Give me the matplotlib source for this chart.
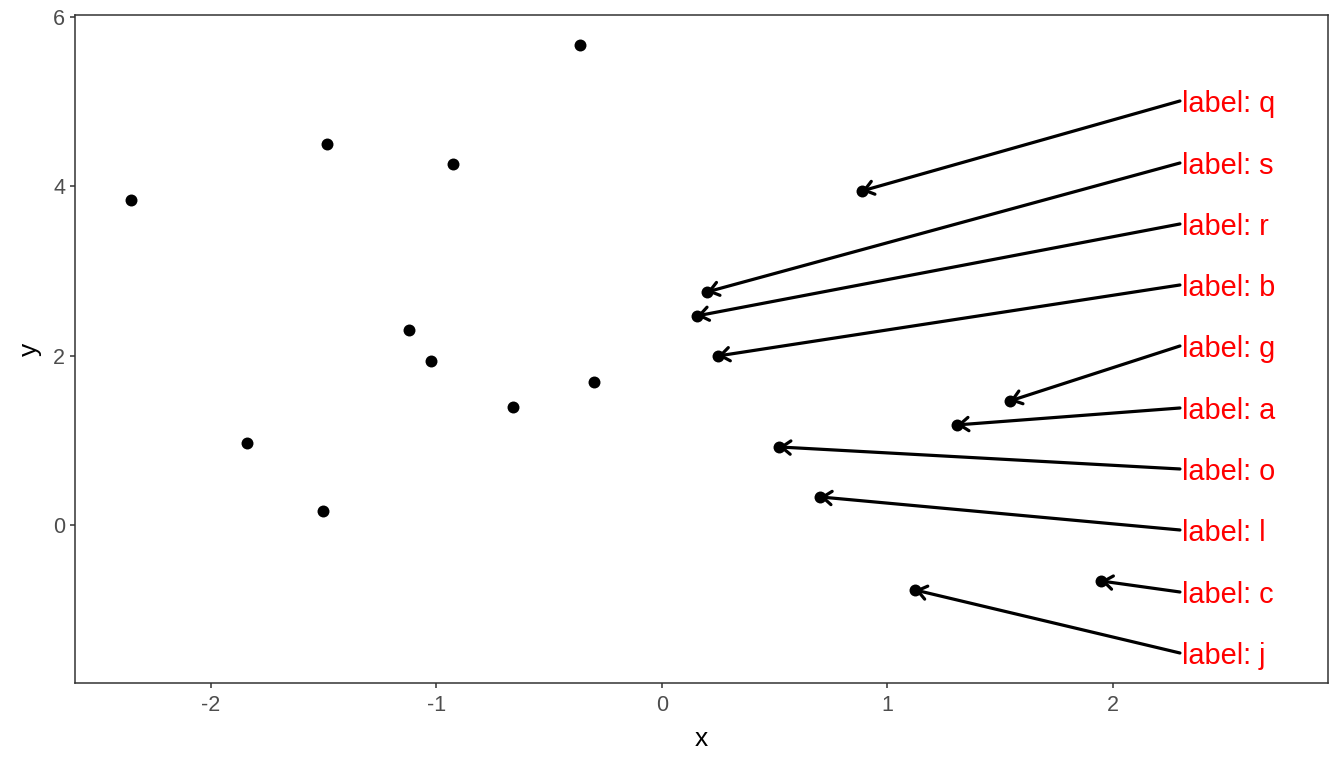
import matplotlib
matplotlib.use("Agg")
import matplotlib.pyplot as plt

plt.rcParams['font.family'] = ['Liberation Sans', 'DejaVu Sans']
plt.rcParams['axes.unicode_minus'] = False

# points without labels
x_plain = [-2.355, -1.486, -0.927, -0.364, -1.122, -1.024, -0.661, -0.302, -1.840, -1.503]
y_plain = [3.837, 4.498, 4.262, 5.667, 2.302, 1.936, 1.393, 1.688, 0.968, 0.165]

# labelled points and where their labels sit
names = ['q', 's', 'r', 'b', 'g', 'a', 'o', 'l', 'c', 'j']
x_lab = [0.887, 0.200, 0.155, 0.248, 1.543, 1.308, 0.519, 0.701, 1.947, 1.122]
y_lab = [3.943, 2.751, 2.468, 1.995, 1.464, 1.181, 0.921, 0.331, -0.661, -0.767]
label_x = 2.297
label_y = [5.005, 4.273, 3.553, 2.833, 2.113, 1.381, 0.661, -0.059, -0.791, -1.511]

fig = plt.figure(figsize=(13.44, 7.68), dpi=100)
ax = fig.add_axes([0.0558, 0.1107, 0.9322, 0.8698])

ax.scatter(x_plain + x_lab, y_plain + y_lab, s=74, color='black', zorder=3, linewidths=0)

for n, px, py, ly in zip(names, x_lab, y_lab, label_y):
    ax.annotate('', xy=(px, py), xytext=(label_x, ly),
                arrowprops=dict(arrowstyle='->,head_length=0.4,head_width=0.3',
                                lw=2.3, color='black', shrinkA=0, shrinkB=0,
                                mutation_scale=16), zorder=4)
    ax.annotate('label: ' + n, xy=(label_x, ly), xytext=(1.5, -7.6),
                textcoords='offset points', ha='left', va='baseline',
                color='red', fontsize=20.8)

ax.set_xlim(-2.603, 2.953)
ax.set_ylim(-1.865, 6.02)
ax.set_xticks([-2, -1, 0, 1, 2])
ax.set_yticks([0, 2, 4, 6])
ax.tick_params(colors='#333333', labelcolor='#4D4D4D', labelsize=15.5, length=3.6, width=1.1)
ax.tick_params(axis='x', pad=5)
for sp in ax.spines.values():
    sp.set_color('#333333')
    sp.set_linewidth(1.1)
ax.set_xlabel('x', fontsize=19, labelpad=8)
ax.set_ylabel('y', fontsize=19, labelpad=8)

fig.savefig('out.png', dpi=100)
